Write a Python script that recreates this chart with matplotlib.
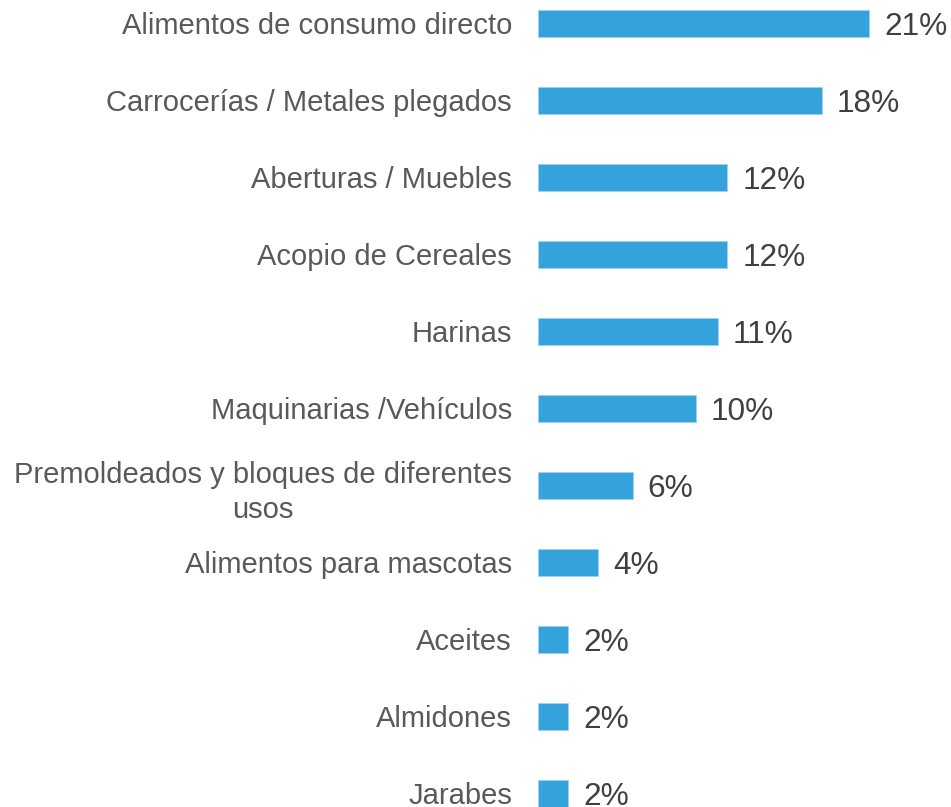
import matplotlib.pyplot as plt

categories = [
    'Alimentos de consumo directo',
    'Carrocerías / Metales plegados',
    'Aberturas / Muebles',
    'Acopio de Cereales',
    'Harinas',
    'Maquinarias /Vehículos',
    'Premoldeados y bloques de diferentes\nusos',
    'Alimentos para mascotas',
    'Aceites',
    'Almidones',
    'Jarabes',
]
# bar lengths, labels as printed
shares = [21, 18, 12, 12, 11.4, 10, 6, 3.8, 1.9, 1.9, 1.9]
share_labels = ['21%', '18%', '12%', '12%', '11%', '10%', '6%', '4%', '2%', '2%', '2%']

bar_color = '#34A3DB'
label_color = '#595959'
value_color = '#404040'

plt.rcParams['font.family'] = ['Liberation Sans', 'DejaVu Sans']

fig = plt.figure(figsize=(9.51, 8.07), dpi=100)
ax = fig.add_axes([538 / 951, 0, 0.4309, 1])

pos = list(range(len(categories)))
ax.barh(pos, shares, height=0.355, color=bar_color,
        edgecolor='#9dd3ef', linewidth=0.6)
ax.set_xlim(0, 26)
ax.set_ylim(10.171, -0.305)
ax.axis('off')

# category labels left of the bars, baseline placed so caps sit centred on the bar
for i, cat in enumerate(categories):
    # wrapped label: first line baseline on the bar centre, second line below
    dy = -32.6 if '\n' in cat else -10.5
    ax.annotate(cat, xy=(0, i), xytext=(-26, dy), textcoords='offset pixels',
                ha='right', va='baseline', multialignment='center',
                fontsize=21, color=label_color, linespacing=1.34)

# value labels at the end of the bars
for i, (v, lab) in enumerate(zip(shares, share_labels)):
    ax.annotate(lab, xy=(v, i), xytext=(15, -11.5), textcoords='offset pixels',
                ha='left', va='baseline', fontsize=22.8, color=value_color)

fig.savefig('out.png', dpi=100)
